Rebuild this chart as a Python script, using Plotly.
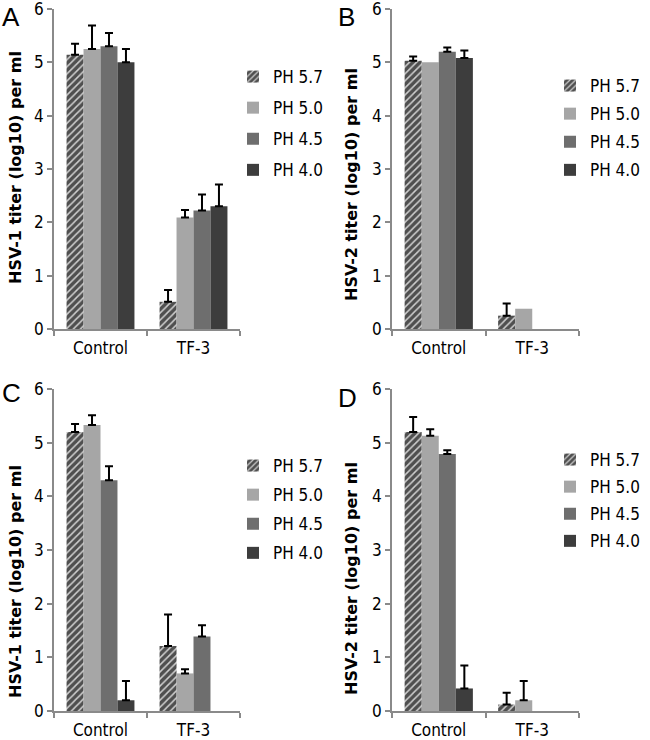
import plotly.graph_objects as go

categories = ["Control", "TF-3"]
series_names = ["PH 5.7", "PH 5.0", "PH 4.5", "PH 4.0"]
y_tick_vals = [0, 1, 2, 3, 4, 5, 6]

# Panel A (HSV-1)
a_ph57 = [5.14, 0.51]
a_ph50 = [5.25, 2.09]
a_ph45 = [5.30, 2.22]
a_ph40 = [5.00, 2.30]
a_err57 = [0.21, 0.22]
a_err50 = [0.44, 0.14]
a_err45 = [0.25, 0.30]
a_err40 = [0.25, 0.41]

# Panel B (HSV-2)
b_ph57 = [5.03, 0.25]
b_ph50 = [5.00, 0.38]
b_ph45 = [5.20, 0.0]
b_ph40 = [5.08, 0.0]
b_err57 = [0.08, 0.23]
b_err50 = [None, None]
b_err45 = [0.08, None]
b_err40 = [0.14, None]

# Panel C (HSV-1)
c_ph57 = [5.20, 1.21]
c_ph50 = [5.33, 0.70]
c_ph45 = [4.30, 1.39]
c_ph40 = [0.20, 0.0]
c_err57 = [0.15, 0.59]
c_err50 = [0.18, 0.08]
c_err45 = [0.26, 0.21]
c_err40 = [0.36, None]

# Panel D (HSV-2)
d_ph57 = [5.20, 0.12]
d_ph50 = [5.13, 0.20]
d_ph45 = [4.79, 0.0]
d_ph40 = [0.42, 0.0]
d_err57 = [0.28, 0.22]
d_err50 = [0.12, 0.36]
d_err45 = [0.07, None]
d_err40 = [0.43, None]

panel_letters = ["A", "B", "C", "D"]
y_titles = ["HSV-1 titer (log10) per ml", "HSV-2 titer (log10) per ml",
            "HSV-1 titer (log10) per ml", "HSV-2 titer (log10) per ml"]

W, H = 650, 740
COND = "DejaVu Sans Condensed, Liberation Sans Narrow, DejaVu Sans, sans-serif"
AXIS_GRAY = "#8a8a8a"

colors = ["#4f4f4f", "#a6a6a6", "#6e6e6e", "#3d3d3d"]

panels = [
    dict(vals=[a_ph57, a_ph50, a_ph45, a_ph40], errs=[a_err57, a_err50, a_err45, a_err40]),
    dict(vals=[b_ph57, b_ph50, b_ph45, b_ph40], errs=[b_err57, b_err50, b_err45, b_err40]),
    dict(vals=[c_ph57, c_ph50, c_ph45, c_ph40], errs=[c_err57, c_err50, c_err45, c_err40]),
    dict(vals=[d_ph57, d_ph50, d_ph45, d_ph40], errs=[d_err57, d_err50, d_err45, d_err40]),
]

# layout geometry (pixels)
x_dom_px = [(54, 240), (392, 579), (54, 240), (392, 579)]
y_dom_px = [(9, 329), (9, 329), (389, 711), (389, 711)]  # (top, bottom)
legend_pos_px = [(233, 59), (550, 68), (233, 448), (550, 442)]
legend_gaps = [6, 3, 4, 2]
title_pos_px = [(15, 168), (351, 185), (15, 582), (351, 579)]
letter_pos_px = [(0, 0), (336, 0), (0, 376), (336, 381)]

fig = go.Figure()
legend_keys = ["legend", "legend2", "legend3", "legend4"]

for p, panel in enumerate(panels):
    xa = "x" if p == 0 else f"x{p+1}"
    ya = "y" if p == 0 else f"y{p+1}"
    for s in range(4):
        marker = dict(color=colors[s], line=dict(width=0))
        if s == 0:
            marker["pattern"] = dict(shape="/", fgcolor="#cfcfcf", bgcolor="#4f4f4f",
                                     size=5, solidity=0.3, fillmode="replace")
        vals = panel["vals"][s]
        errs = panel["errs"][s]
        # zero-height bars carry no error bar and draw nothing: leave them out
        keep = [i for i in range(len(categories)) if not (vals[i] == 0 and errs[i] is None)]
        xs = [categories[i] for i in keep]
        ys = [vals[i] for i in keep]
        es = [errs[i] for i in keep]
        kw = {}
        if any(e is not None for e in es):
            kw["error_y"] = dict(type="data", array=[e if e is not None else 0 for e in es],
                                 symmetric=False, arrayminus=[0] * len(es),
                                 color="black", thickness=2, width=4)
        fig.add_trace(go.Bar(
            x=xs, y=ys, name=series_names[s],
            marker=marker, xaxis=xa, yaxis=ya,
            legend=legend_keys[p], legendgroup=f"p{p}s{s}", **kw,
        ))

layout = dict(
    template="none",
    width=W, height=H, margin=dict(l=0, r=0, t=0, b=0, pad=0),
    paper_bgcolor="white", plot_bgcolor="white",
    barmode="group", bargap=0.27, bargroupgap=0,
    showlegend=True,
    font=dict(family=COND, size=17, color="black"),
)

for p in range(4):
    xk = "xaxis" if p == 0 else f"xaxis{p+1}"
    yk = "yaxis" if p == 0 else f"yaxis{p+1}"
    x0, x1 = x_dom_px[p]
    yt, yb = y_dom_px[p]
    layout[xk] = dict(
        domain=[x0 / W, x1 / W], anchor="y" if p == 0 else f"y{p+1}",
        type="category", categoryorder="array", categoryarray=categories,
        range=[-0.5, 1.5], showline=True, linecolor=AXIS_GRAY, linewidth=1.5,
        ticks="outside", tickson="boundaries", ticklen=5, tickcolor=AXIS_GRAY,
        tickwidth=1.5, showgrid=False, zeroline=False, automargin=False,
        tickfont=dict(family=COND, size=17, color="black"), ticklabelstandoff=3,
        ticklabeloverflow="allow",
    )
    layout[yk] = dict(
        domain=[1 - yb / H, 1 - yt / H], anchor="x" if p == 0 else f"x{p+1}",
        range=[0, 6], tickvals=y_tick_vals, showline=True, linecolor=AXIS_GRAY,
        linewidth=1.5, ticks="outside", ticklen=5, tickcolor=AXIS_GRAY, tickwidth=1.5,
        showgrid=False, zeroline=False, automargin=False, ticklabeloverflow="allow",
        tickfont=dict(family=COND, size=17, color="black"),
    )
    lx, ly = legend_pos_px[p]
    layout[legend_keys[p]] = dict(
        x=lx / W, y=1 - ly / H, xanchor="left", yanchor="top",
        bgcolor="rgba(0,0,0,0)", borderwidth=0, tracegroupgap=legend_gaps[p],
        traceorder="grouped", font=dict(family=COND, size=17, color="black"),
        itemwidth=30,
    )

annotations = []
for p in range(4):
    tx, ty = title_pos_px[p]
    annotations.append(dict(
        x=tx / W, y=1 - ty / H, xref="paper", yref="paper", text=y_titles[p],
        textangle=-90, showarrow=False, xanchor="center", yanchor="middle",
        font=dict(family="DejaVu Sans, Verdana, sans-serif", size=16, color="black", weight="bold"),
    ))
    lx, ly = letter_pos_px[p]
    annotations.append(dict(
        x=lx / W, y=1 - ly / H, xref="paper", yref="paper", text=panel_letters[p],
        showarrow=False, xanchor="left", yanchor="top",
        font=dict(family="Liberation Sans, Arial, sans-serif", size=26, color="black"),
    ))
layout["annotations"] = annotations

fig.update_layout(**layout)
fig.write_html("out.html", config={"displayModeBar": False},
               post_script="document.body.style.margin='0';")
